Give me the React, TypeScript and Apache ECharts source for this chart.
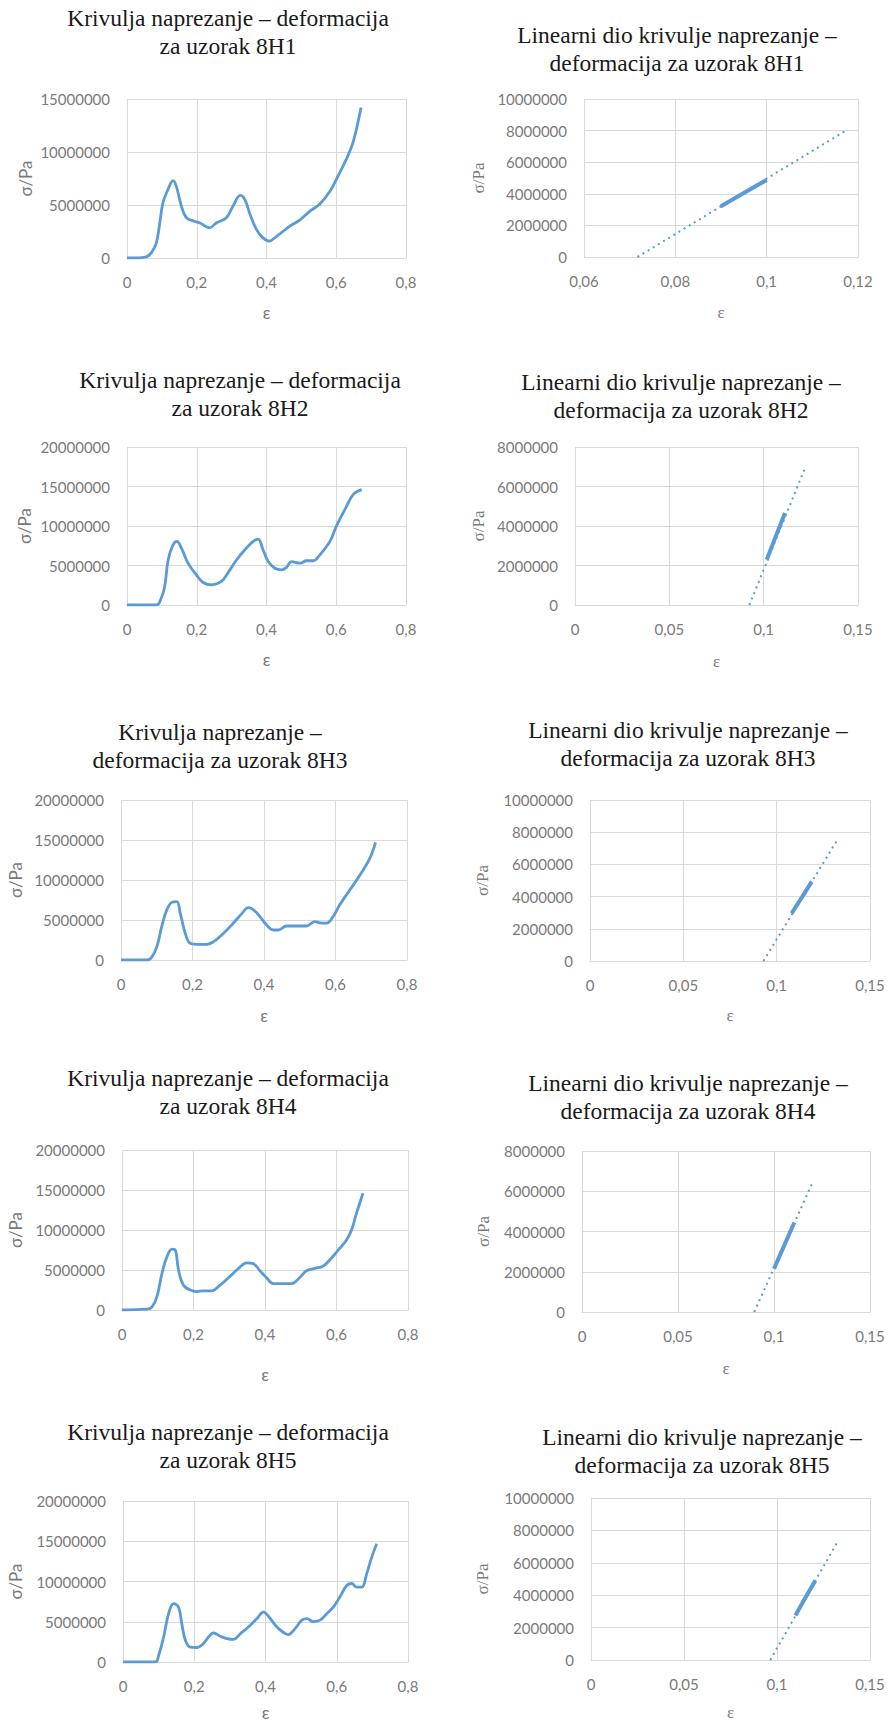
import React, { useEffect, useRef } from "react";
import * as echarts from "echarts";

// ---------- DATA ----------
const samples = ["8H1", "8H2", "8H3", "8H4", "8H5"];

// Full stress–strain curves (ε, σ in Pa)
const eps1 = [0, 0.03, 0.055, 0.07, 0.084, 0.094, 0.103, 0.118, 0.132, 0.141, 0.156, 0.17, 0.19, 0.209, 0.237, 0.256, 0.285, 0.304, 0.325, 0.338, 0.352, 0.371, 0.39, 0.408, 0.429, 0.467, 0.496, 0.524, 0.553, 0.582, 0.6, 0.63, 0.649, 0.671];
const sig1 = [0, 0, 1e5, 5e5, 1.4e6, 3.3e6, 5.2e6, 6.5e6, 7.3e6, 6.8e6, 4.9e6, 3.8e6, 3.5e6, 3.3e6, 2.85e6, 3.3e6, 3.8e6, 4.9e6, 5.9e6, 5.5e6, 4.2e6, 2.7e6, 1.9e6, 1.6e6, 2.05e6, 3.0e6, 3.6e6, 4.4e6, 5.1e6, 6.3e6, 7.4e6, 9.4e6, 1.1e7, 1.42e7];

const eps2 = [0, 0.084, 0.098, 0.108, 0.118, 0.132, 0.143, 0.156, 0.175, 0.199, 0.218, 0.242, 0.261, 0.276, 0.295, 0.314, 0.338, 0.362, 0.376, 0.39, 0.405, 0.424, 0.443, 0.457, 0.472, 0.496, 0.515, 0.534, 0.553, 0.582, 0.6, 0.625, 0.649, 0.673];
const sig2 = [0, 0, 8.5e5, 2.3e6, 5.7e6, 7.6e6, 8.05e6, 7.2e6, 5.3e6, 3.8e6, 2.85e6, 2.55e6, 2.75e6, 3.2e6, 4.45e6, 5.7e6, 7.0e6, 8.05e6, 8.35e6, 7.0e6, 5.5e6, 4.65e6, 4.45e6, 4.75e6, 5.5e6, 5.3e6, 5.6e6, 5.6e6, 6.35e6, 8.05e6, 9.95e6, 1.21e7, 1.4e7, 1.46e7];

const eps3 = [0, 0.0726, 0.0865, 0.1005, 0.114, 0.128, 0.142, 0.156, 0.166, 0.18, 0.193, 0.212, 0.24, 0.259, 0.286, 0.314, 0.338, 0.356, 0.37, 0.389, 0.407, 0.426, 0.44, 0.463, 0.491, 0.519, 0.542, 0.556, 0.575, 0.593, 0.612, 0.64, 0.668, 0.696, 0.712];
const sig3 = [0, 0, 4e5, 1.7e6, 4.2e6, 6.25e6, 7.2e6, 7.3e6, 5.8e6, 3.3e6, 2.1e6, 1.95e6, 1.95e6, 2.3e6, 3.3e6, 4.6e6, 5.8e6, 6.55e6, 6.3e6, 5.4e6, 4.4e6, 3.75e6, 3.75e6, 4.25e6, 4.25e6, 4.25e6, 4.8e6, 4.65e6, 4.6e6, 5.4e6, 6.9e6, 8.75e6, 1.06e7, 1.27e7, 1.47e7];

const eps4 = [0, 0.07, 0.084, 0.098, 0.112, 0.126, 0.14, 0.149, 0.158, 0.172, 0.191, 0.209, 0.228, 0.251, 0.274, 0.302, 0.326, 0.349, 0.367, 0.386, 0.405, 0.423, 0.447, 0.474, 0.498, 0.516, 0.54, 0.563, 0.586, 0.609, 0.628, 0.642, 0.656, 0.674];
const sig4 = [0, 1e5, 4e5, 1.7e6, 4.6e6, 6.7e6, 7.6e6, 7.5e6, 5.0e6, 3.1e6, 2.5e6, 2.3e6, 2.4e6, 2.4e6, 3.1e6, 4.2e6, 5.2e6, 5.9e6, 5.8e6, 4.9e6, 4.0e6, 3.3e6, 3.3e6, 3.3e6, 4.1e6, 4.9e6, 5.2e6, 5.5e6, 6.5e6, 7.7e6, 8.75e6, 1.0e7, 1.21e7, 1.46e7];

const eps5 = [0, 0.0906, 0.1, 0.114, 0.128, 0.142, 0.156, 0.165, 0.175, 0.189, 0.207, 0.226, 0.24, 0.254, 0.273, 0.292, 0.31, 0.329, 0.352, 0.376, 0.394, 0.413, 0.432, 0.45, 0.464, 0.483, 0.502, 0.516, 0.534, 0.553, 0.572, 0.591, 0.609, 0.628, 0.642, 0.656, 0.67, 0.684, 0.698, 0.712];
const sig5 = [0, 0, 8e5, 3.1e6, 6.0e6, 7.25e6, 6.8e6, 4.75e6, 2.7e6, 1.85e6, 1.8e6, 2.3e6, 3.1e6, 3.6e6, 3.2e6, 2.9e6, 2.8e6, 3.5e6, 4.35e6, 5.4e6, 6.2e6, 5.4e6, 4.35e6, 3.7e6, 3.4e6, 4.15e6, 5.2e6, 5.4e6, 5.0e6, 5.2e6, 6.0e6, 6.85e6, 8.1e6, 9.5e6, 9.75e6, 9.3e6, 9.3e6, 1.095e7, 1.3e7, 1.47e7];

// Linear parts: measured points and fitted trend line end points
const linEps1 = [0.0899, 0.095, 0.1];
const linSig1 = [3.2e6, 4.05e6, 4.88e6];
const trendEps1 = [0.0717, 0.1178];
const trendSig1 = [0, 8.08e6];

const linEps2 = [0.1016, 0.1065, 0.1113];
const linSig2 = [2.29e6, 3.5e6, 4.66e6];
const trendEps2 = [0.0924, 0.1216];
const trendSig2 = [0, 6.86e6];

const linEps3 = [0.108, 0.1135, 0.1188];
const linSig3 = [2.96e6, 3.95e6, 4.93e6];
const trendEps3 = [0.0929, 0.133];
const trendSig3 = [0, 7.62e6];

const linEps4 = [0.1, 0.1053, 0.1106];
const linSig4 = [2.15e6, 3.3e6, 4.45e6];
const trendEps4 = [0.0897, 0.1202];
const trendSig4 = [0, 6.46e6];

const linEps5 = [0.1099, 0.115, 0.1206];
const linSig5 = [2.75e6, 3.8e6, 4.9e6];
const trendEps5 = [0.0964, 0.1328];
const trendSig5 = [0, 7.35e6];

// Axis ranges (min, max, interval)
const curveXAxis = [0, 0.8, 0.2];
const curveYMax = [1.5e7, 2e7, 2e7, 2e7, 2e7];
const curveYStep = 5e6;
const linXAxis = [
  [0.06, 0.12, 0.02],
  [0, 0.15, 0.05],
  [0, 0.15, 0.05],
  [0, 0.15, 0.05],
  [0, 0.15, 0.05],
];
const linYMax = [1e7, 8e6, 1e7, 8e6, 1e7];
const linYStep = 2e6;

const curveTitles = [
  "Krivulja naprezanje – deformacija\nza uzorak 8H1",
  "Krivulja naprezanje – deformacija\nza uzorak 8H2",
  "Krivulja naprezanje –\ndeformacija za uzorak 8H3",
  "Krivulja naprezanje – deformacija\nza uzorak 8H4",
  "Krivulja naprezanje – deformacija\nza uzorak 8H5",
];
const linTitles = samples.map(
  (s) => "Linearni dio krivulje naprezanje –\ndeformacija za uzorak " + s
);

const curves = [
  [eps1, sig1],
  [eps2, sig2],
  [eps3, sig3],
  [eps4, sig4],
  [eps5, sig5],
];
const lins = [
  [linEps1, linSig1, trendEps1, trendSig1],
  [linEps2, linSig2, trendEps2, trendSig2],
  [linEps3, linSig3, trendEps3, trendSig3],
  [linEps4, linSig4, trendEps4, trendSig4],
  [linEps5, linSig5, trendEps5, trendSig5],
];

// ---------- LAYOUT ----------
const curveLayout = [
  { left: 127, top: 99, width: 279, height: 159, gx: 46, gy: 93, tx: 228, ty: 4 },
  { left: 127, top: 447, width: 279, height: 158, gx: 46, gy: 94, tx: 240, ty: 366 },
  { left: 121, top: 800, width: 286, height: 160, gx: 47, gy: 97, tx: 220, ty: 718 },
  { left: 122, top: 1150, width: 286, height: 160, gx: 56, gy: 98, tx: 228, ty: 1064 },
  { left: 123, top: 1501, width: 285, height: 161, gx: 42, gy: 99, tx: 228, ty: 1418 },
];
const linLayout = [
  { left: 584, top: 99, width: 274, height: 158, gx: 47, gy: 97, tx: 677, ty: 21 },
  { left: 575, top: 447, width: 283, height: 158, gx: 48, gy: 88, tx: 681, ty: 368 },
  { left: 590, top: 800, width: 280, height: 161, gx: 46, gy: 99, tx: 688, ty: 716 },
  { left: 582, top: 1151, width: 288, height: 161, gx: 48, gy: 90, tx: 688, ty: 1069 },
  { left: 591, top: 1498, width: 279, height: 164, gx: 44, gy: 100, tx: 702, ty: 1423 },
];

const BLUE = "#5b9bd5";
const GRID = "#d9d9d9";
const LABEL = "#7a7a7a";
const SERIF = "'Liberation Serif', 'Times New Roman', serif";
const SANS = "Lato, 'Noto Sans', sans-serif";

const fmtX = (v: number) => String(Number(v.toFixed(4))).replace(".", ",");
const fmtY = (v: number) => String(Math.round(v));
const zip = (a: number[], b: number[]) => a.map((x, i) => [x, b[i]]);

function buildOption() {
  const grid: any[] = [];
  const xAxis: any[] = [];
  const yAxis: any[] = [];
  const series: any[] = [];
  const title: any[] = [];

  const addPanel = (
    lay: any,
    xr: number[],
    yMax: number,
    yStep: number,
    titleText: string,
    nameFont: string
  ) => {
    const idx = grid.length;
    grid.push({ left: lay.left, top: lay.top, width: lay.width, height: lay.height, containLabel: false });
    title.push({
      text: titleText,
      left: lay.tx,
      top: lay.ty,
      textAlign: "center",
      padding: 0,
      textStyle: {
        fontFamily: SERIF,
        fontSize: 23.5,
        fontWeight: "normal",
        color: "#1a1a1a",
        lineHeight: 28,
      },
    });
    xAxis.push({
      gridIndex: idx,
      type: "value",
      min: xr[0],
      max: xr[1],
      interval: xr[2],
      axisLine: { show: true, lineStyle: { color: GRID, width: 1 } },
      axisTick: { show: false },
      splitLine: { show: true, lineStyle: { color: GRID, width: 1 } },
      axisLabel: { formatter: fmtX, color: LABEL, fontFamily: SANS, fontSize: 15, margin: 16 },
      name: "ε",
      nameLocation: "middle",
      nameGap: lay.gx,
      nameTextStyle: { color: LABEL, fontFamily: nameFont, fontSize: 17 },
    });
    yAxis.push({
      gridIndex: idx,
      type: "value",
      min: 0,
      max: yMax,
      interval: yStep,
      axisLine: { show: false },
      axisTick: { show: false },
      splitLine: { show: true, lineStyle: { color: GRID, width: 1 } },
      axisLabel: { formatter: fmtY, color: LABEL, fontFamily: SANS, fontSize: 15, margin: 17 },
      name: "σ/Pa",
      nameLocation: "middle",
      nameRotate: 90,
      nameGap: lay.gy,
      nameTextStyle: { color: LABEL, fontFamily: nameFont, fontSize: 17 },
    });
    return idx;
  };

  for (let i = 0; i < 5; i++) {
    const ci = addPanel(curveLayout[i], curveXAxis, curveYMax[i], curveYStep, curveTitles[i], SANS);
    series.push({
      type: "line",
      name: "Krivulja " + samples[i],
      xAxisIndex: ci,
      yAxisIndex: ci,
      data: zip(curves[i][0], curves[i][1]),
      showSymbol: false,
      smooth: 0.4,
      lineStyle: { color: BLUE, width: 2.8 },
    });

    const li = addPanel(linLayout[i], linXAxis[i], linYMax[i], linYStep, linTitles[i], SERIF);
    const [le, ls, te, ts] = lins[i];
    series.push({
      type: "line",
      name: "Trend " + samples[i],
      xAxisIndex: li,
      yAxisIndex: li,
      data: zip(te, ts),
      showSymbol: false,
      lineStyle: { color: BLUE, width: 2, type: [2, 4] },
    });
    series.push({
      type: "line",
      name: "Linearni dio " + samples[i],
      xAxisIndex: li,
      yAxisIndex: li,
      data: zip(le, ls),
      showSymbol: false,
      lineStyle: { color: BLUE, width: 4 },
    });
  }

  return {
    animation: false,
    backgroundColor: "#ffffff",
    title,
    grid,
    xAxis,
    yAxis,
    series,
  };
}

export default function App() {
  const ref = useRef<HTMLDivElement>(null);
  useEffect(() => {
    if (!ref.current) return;
    const chart = echarts.init(ref.current, undefined, { renderer: "svg" });
    chart.setOption(buildOption() as any);
    return () => chart.dispose();
  }, []);
  return (
    <div
      ref={ref}
      style={{ position: "absolute", left: 0, top: 0, width: 890, height: 1722, background: "#fff" }}
    />
  );
}
